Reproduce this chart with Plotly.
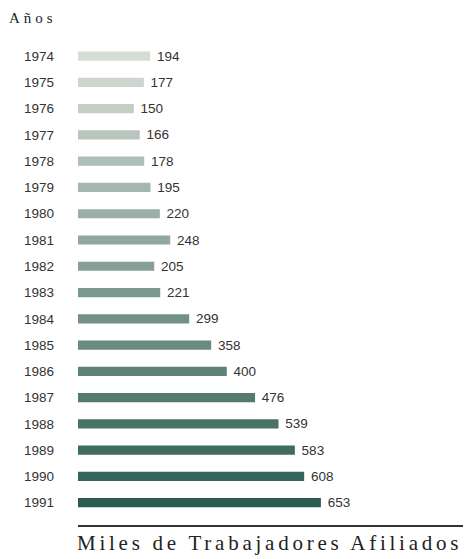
import plotly.graph_objects as go

# Afiliados por año (miles de trabajadores)
years = ["1974", "1975", "1976", "1977", "1978", "1979", "1980", "1981", "1982",
         "1983", "1984", "1985", "1986", "1987", "1988", "1989", "1990", "1991"]
values = [194, 177, 150, 166, 178, 195, 220, 248, 205,
          221, 299, 358, 400, 476, 539, 583, 608, 653]

# colour ramp from pale grey-green to dark teal
light = (214, 221, 214)
dark = (44, 92, 80)
n = len(years)
colors = []
for i in range(n):
    t = i / (n - 1)
    c = [round(light[k] + (dark[k] - light[k]) * t) for k in range(3)]
    colors.append("rgb(%d,%d,%d)" % tuple(c))

fig = go.Figure(go.Bar(
    y=years,
    x=values,
    orientation="h",
    width=0.35,
    marker=dict(color=colors, line=dict(width=0)),
    texttemplate=" %{x}",
    textposition="outside",
    constraintext="none",
    cliponaxis=False,
    textfont=dict(family="Liberation Sans, Arial", size=13.5, color="#333"),
    hoverinfo="skip",
))

fig.update_layout(
    width=468,
    height=559,
    margin=dict(l=78, r=5, t=43, b=34),
    paper_bgcolor="white",
    plot_bgcolor="white",
    showlegend=False,
    font=dict(family="Liberation Sans, Arial", size=13, color="#333"),
    xaxis=dict(
        range=[0, 1035],
        showgrid=False,
        zeroline=False,
        showticklabels=False,
        ticks="",
        showline=True,
        linecolor="#333",
        linewidth=1.5,
    ),
    yaxis=dict(
        type="category",
        range=[17.85, -0.5],
        showgrid=False,
        zeroline=False,
        ticks="",
        automargin=False,
        ticklabelstandoff=23,
        tickfont=dict(family="Liberation Sans, Arial", size=13.5, color="#333"),
    ),
    annotations=[
        dict(
            text="Años",
            xref="paper", yref="paper",
            x=-71 / 385, y=1 + 25 / 482,
            xanchor="left", yanchor="middle", align="left",
            showarrow=False,
            font=dict(family="Liberation Serif, Times New Roman", size=15, color="#222"),
        ),
        dict(
            text="Miles de Trabajadores Afiliados",
            xref="paper", yref="paper",
            x=-3 / 385, y=-18 / 482,
            xanchor="left", yanchor="middle", align="left",
            showarrow=False,
            font=dict(family="Liberation Serif, Times New Roman", size=21, color="#222"),
        ),
    ],
)

# no page margin; letter-spaced serif captions, as in the printed original
page_js = """
document.body.style.margin = '0';
document.querySelectorAll('.annotation-text').forEach(function (el) {
    var t = el.textContent;
    if (t.indexOf('Miles') === 0) { el.style.letterSpacing = '3.75px'; }
    if (t.indexOf('A') === 0 && t.length === 4) { el.style.letterSpacing = '4px'; }
});
"""

fig.write_html("out.html", post_script=page_js, config={"displayModeBar": False})
